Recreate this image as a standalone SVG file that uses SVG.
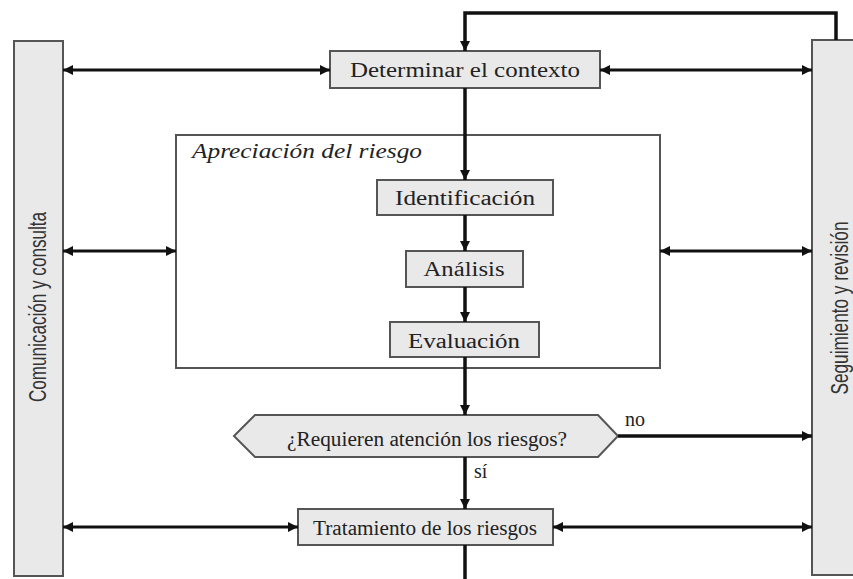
<svg xmlns="http://www.w3.org/2000/svg" width="853" height="579" viewBox="0 0 853 579">
  <style>
    .box { fill: #e9e9e9; stroke: #555; stroke-width: 2; }
    .frame { fill: #ffffff; stroke: #555; stroke-width: 2; }
    .lbl { font-family: "Liberation Serif", "Times New Roman", serif; font-size: 20px; fill: #222; }
    .side { font-family: "Liberation Sans", Arial, sans-serif; font-size: 23px; fill: #333; }
    .flow { fill: none; stroke: #111; stroke-width: 3.5; }
    .link { fill: none; stroke: #111; stroke-width: 3; }
  </style>
  <defs>
    <marker id="head" viewBox="0 0 10 10" refX="10" refY="5" markerWidth="12" markerHeight="10" markerUnits="userSpaceOnUse" orient="auto-start-reverse">
      <path d="M0,0 L10,5 L0,10 Z" fill="#111"/>
    </marker>
  </defs>

  <rect width="853" height="579" fill="#ffffff"/>

  <!-- side bars -->
  <g id="comunicacion">
    <rect class="box" x="14" y="41" width="49" height="535"/>
    <text class="side" transform="translate(46,307) rotate(-90)" text-anchor="middle" textLength="190" lengthAdjust="spacingAndGlyphs">Comunicación y consulta</text>
  </g>
  <g id="seguimiento">
    <rect class="box" x="812" y="40" width="44" height="535"/>
    <text class="side" transform="translate(848,308) rotate(-90)" text-anchor="middle" textLength="173" lengthAdjust="spacingAndGlyphs">Seguimiento y revisión</text>
  </g>

  <!-- risk assessment frame -->
  <g id="apreciacion">
    <rect class="frame" x="176" y="135" width="484" height="233"/>
    <text class="lbl" x="192" y="158" font-style="italic" textLength="230" lengthAdjust="spacingAndGlyphs">Apreciación del riesgo</text>
  </g>

  <g id="contexto">
    <rect class="box" x="330" y="51" width="270" height="37"/>
    <text class="lbl" x="465" y="77" text-anchor="middle" textLength="230" lengthAdjust="spacingAndGlyphs">Determinar el contexto</text>
  </g>
  <g id="identificacion">
    <rect class="box" x="377" y="180" width="176" height="35"/>
    <text class="lbl" x="465" y="205" text-anchor="middle" textLength="140" lengthAdjust="spacingAndGlyphs">Identificación</text>
  </g>
  <g id="analisis">
    <rect class="box" x="406" y="251" width="117" height="36"/>
    <text class="lbl" x="464" y="276" text-anchor="middle" textLength="81" lengthAdjust="spacingAndGlyphs">Análisis</text>
  </g>
  <g id="evaluacion">
    <rect class="box" x="390" y="322" width="149" height="35"/>
    <text class="lbl" x="464" y="348" text-anchor="middle" textLength="112" lengthAdjust="spacingAndGlyphs">Evaluación</text>
  </g>
  <g id="decision">
    <polygon class="box" points="234,436 255,415 598,415 618,436 598,457 255,457"/>
    <text class="lbl" x="427" y="446" text-anchor="middle" textLength="280" lengthAdjust="spacingAndGlyphs">¿Requieren atención los riesgos?</text>
  </g>
  <g id="tratamiento">
    <rect class="box" x="298" y="509" width="255" height="36"/>
    <text class="lbl" x="425" y="535" text-anchor="middle" textLength="224" lengthAdjust="spacingAndGlyphs">Tratamiento de los riesgos</text>
  </g>

  <!-- connectors -->
  <g id="connectors">
    <path class="flow" d="M836,40 V13 H465 V51" marker-end="url(#head)"/>
    <path class="flow" d="M465,88 V180" marker-end="url(#head)"/>
    <path class="flow" d="M465,215 V251" marker-end="url(#head)"/>
    <path class="flow" d="M465,287 V322" marker-end="url(#head)"/>
    <path class="flow" d="M465,357 V415" marker-end="url(#head)"/>
    <path class="flow" d="M465,457 V509" marker-end="url(#head)"/>
    <path class="flow" d="M465,545 V579"/>
    <path class="flow" d="M618,436 H812" marker-end="url(#head)"/>

    <path class="link" d="M63,70 H330" marker-start="url(#head)" marker-end="url(#head)"/>
    <path class="link" d="M600,70 H812" marker-start="url(#head)" marker-end="url(#head)"/>
    <path class="link" d="M63,251 H176" marker-start="url(#head)" marker-end="url(#head)"/>
    <path class="link" d="M660,251 H812" marker-start="url(#head)" marker-end="url(#head)"/>
    <path class="link" d="M63,527 H298" marker-start="url(#head)" marker-end="url(#head)"/>
    <path class="link" d="M553,527 H812" marker-start="url(#head)" marker-end="url(#head)"/>

    <text class="lbl" x="625" y="426" font-size="16">no</text>
    <text class="lbl" x="474" y="478" font-size="16">sí</text>
  </g>
</svg>
